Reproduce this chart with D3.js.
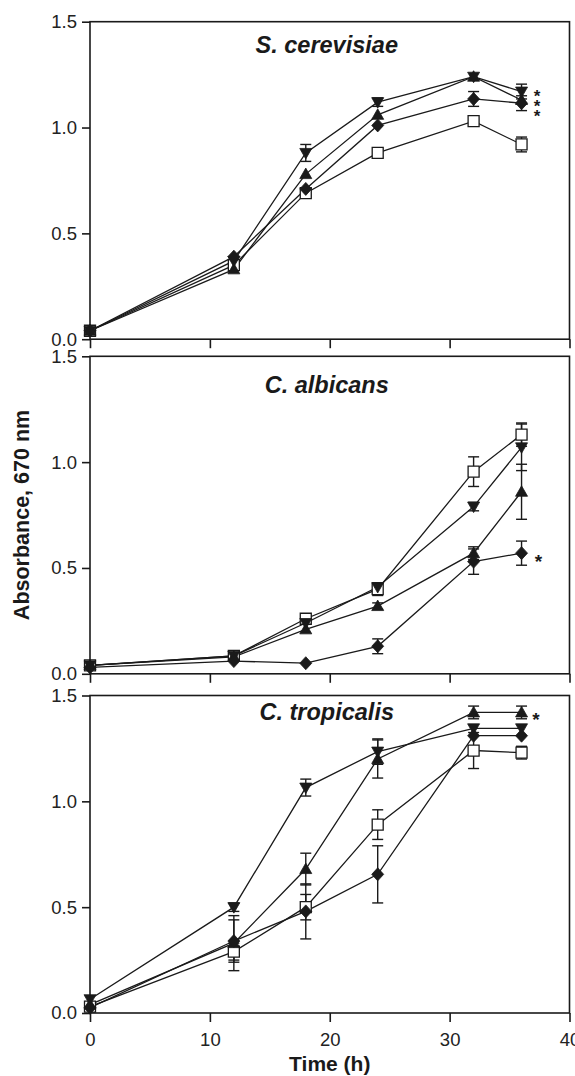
<!DOCTYPE html>
<html>
<head>
<meta charset="utf-8">
<script src="https://cdn.jsdelivr.net/npm/d3@7"></script>
<style>
  body { margin: 0; background: #fff; }
  svg { display: block; font-family: Arial, "Liberation Sans", Helvetica, sans-serif; }
</style>
</head>
<body>
<div id="chart"></div>
<script>
// sampling times (h)
const times = [0, 12, 18, 24, 32, 36];
const xTicks = [0, 10, 20, 30, 40];
const yTicks = [0, 0.5, 1.0, 1.5];
const panelTitles = ['S. cerevisiae', 'C. albicans', 'C. tropicalis'];
// series order: open square, triangle up, triangle down, diamond
const seriesShapes = ['square', 'triangleUp', 'triangleDown', 'diamond'];

// S. cerevisiae
const scMean = [
  [0.04, 0.35, 0.69, 0.88, 1.03, 0.92],
  [0.04, 0.33, 0.78, 1.06, 1.24, 1.13],
  [0.04, 0.37, 0.88, 1.12, 1.24, 1.17],
  [0.04, 0.39, 0.71, 1.01, 1.135, 1.115]
];
const scErr = [
  [0, 0, 0, 0.02, 0.01, 0.035],
  [0, 0, 0, 0, 0, 0],
  [0, 0, 0.04, 0.02, 0, 0.035],
  [0, 0, 0, 0, 0.035, 0.035]
];
// C. albicans
const caMean = [
  [0.04, 0.085, 0.26, 0.40, 0.955, 1.13],
  [0.04, 0.08, 0.21, 0.32, 0.57, 0.86],
  [0.04, 0.085, 0.24, 0.41, 0.79, 1.07],
  [0.03, 0.06, 0.05, 0.13, 0.53, 0.57]
];
const caErr = [
  [0, 0, 0, 0.03, 0.07, 0.055],
  [0, 0, 0, 0.015, 0.03, 0.13],
  [0, 0, 0, 0, 0.02, 0.11],
  [0, 0, 0, 0.035, 0.06, 0.057]
];
// C. tropicalis
const ctMean = [
  [0.03, 0.29, 0.50, 0.89, 1.24, 1.23],
  [0.04, 0.33, 0.68, 1.20, 1.42, 1.42],
  [0.065, 0.50, 1.065, 1.235, 1.345, 1.345],
  [0.025, 0.34, 0.48, 0.655, 1.31, 1.31]
];
const ctErr = [
  [0, 0.04, 0.06, 0.07, 0.085, 0.03],
  [0, 0.13, 0.075, 0.09, 0.03, 0.03],
  [0, 0.02, 0.04, 0.06, 0, 0],
  [0, 0.1, 0.13, 0.135, 0, 0]
];
const panelMeans = [scMean, caMean, ctMean];
const panelErrs = [scErr, caErr, ctErr];

// significance asterisks: [panel, time, absorbance]
const asterisks = [
  [0, 37.3, 1.168], [0, 37.3, 1.121], [0, 37.3, 1.074],
  [1, 37.4, 0.555],
  [2, 37.2, 1.41]
];

const width = 575;
const height = 1076;
const panelTops = [21.7, 356.3, 695.5];
const panelHeight = 317.5;
const titleDy = [31.5, 36.5, 24.5];
const ink = '#1a1a1a';

const svg = d3.select('#chart')
  .append('svg')
  .attr('width', width)
  .attr('height', height);

const xScale = d3.scaleLinear().domain([0, 40]).range([90, 569.5]);

// marker shapes, centred on 0,0
function shapePath(shape) {
  const p = d3.path();
  if (shape === 'square') {
    p.rect(-5.5, -5.5, 11, 11);
  } else if (shape === 'triangleUp') {
    p.moveTo(0, -6); p.lineTo(6, 4.5); p.lineTo(-6, 4.5); p.closePath();
  } else if (shape === 'triangleDown') {
    p.moveTo(0, 6); p.lineTo(6, -4.5); p.lineTo(-6, -4.5); p.closePath();
  } else {
    p.moveTo(0, -6.5); p.lineTo(6, 0); p.lineTo(0, 6.5); p.lineTo(-6, 0); p.closePath();
  }
  return p.toString();
}

panelTitles.forEach((title, pi) => {
  const top = panelTops[pi];
  const bottom = top + panelHeight;
  const yScale = d3.scaleLinear().domain([0, 1.5]).range([bottom, top]);
  const g = svg.append('g').attr('class', 'panel');

  // series as objects
  const series = seriesShapes.map((shape, si) => ({
    shape,
    points: times.map((t, ti) => ({ t, v: panelMeans[pi][si][ti], e: panelErrs[pi][si][ti] }))
  }));

  const line = d3.line().x(d => xScale(d.t)).y(d => yScale(d.v));

  g.selectAll('path.series')
    .data(series)
    .join('path')
    .attr('class', 'series')
    .attr('d', d => line(d.points))
    .attr('fill', 'none')
    .attr('stroke', ink)
    .attr('stroke-width', 1.3);

  // error bars
  const errs = series.flatMap(s => s.points.filter(p => p.e > 0));
  const eb = g.selectAll('g.err').data(errs).join('g').attr('class', 'err')
    .attr('stroke', ink).attr('stroke-width', 1.4);
  eb.append('line')
    .attr('x1', d => xScale(d.t)).attr('x2', d => xScale(d.t))
    .attr('y1', d => yScale(d.v - d.e)).attr('y2', d => yScale(d.v + d.e));
  eb.append('line')
    .attr('x1', d => xScale(d.t) - 5.5).attr('x2', d => xScale(d.t) + 5.5)
    .attr('y1', d => yScale(d.v + d.e)).attr('y2', d => yScale(d.v + d.e));
  eb.append('line')
    .attr('x1', d => xScale(d.t) - 5.5).attr('x2', d => xScale(d.t) + 5.5)
    .attr('y1', d => yScale(d.v - d.e)).attr('y2', d => yScale(d.v - d.e));

  // markers: open squares underneath, filled markers on top
  series.forEach(s => {
    g.selectAll(null)
      .data(s.points)
      .join('path')
      .attr('transform', d => `translate(${xScale(d.t)},${yScale(d.v)})`)
      .attr('d', shapePath(s.shape))
      .attr('fill', s.shape === 'square' ? '#fff' : ink)
      .attr('stroke', ink)
      .attr('stroke-width', s.shape === 'square' ? 1.3 : 0.8);
  });

  // frame
  g.append('rect')
    .attr('x', xScale(0)).attr('y', top)
    .attr('width', xScale(40) - xScale(0)).attr('height', panelHeight)
    .attr('fill', 'none').attr('stroke', ink).attr('stroke-width', 1.6);

  // axes
  const yAxis = d3.axisLeft(yScale).tickValues(yTicks)
    .tickFormat(d3.format('.1f')).tickSize(8).tickPadding(5).tickSizeOuter(0);
  const yg = g.append('g').attr('transform', `translate(${xScale(0)},0)`).call(yAxis);

  const xAxis = d3.axisBottom(xScale).tickValues(xTicks).tickSize(9).tickPadding(11).tickSizeOuter(0);
  if (pi < 2) xAxis.tickFormat('');
  const xg = g.append('g').attr('transform', `translate(0,${bottom})`).call(xAxis);

  [yg, xg].forEach(a => {
    a.select('.domain').remove();
    a.selectAll('line').attr('stroke', ink).attr('stroke-width', 1.6);
    a.selectAll('text').attr('fill', '#222').style('font-size', '18.5px')
      .style('font-family', 'Arial, "Liberation Sans", sans-serif');
  });

  // panel title
  g.append('text')
    .attr('x', (xScale(0) + xScale(40)) / 2 - 3)
    .attr('y', top + titleDy[pi])
    .attr('text-anchor', 'middle')
    .style('font-size', '23.5px')
    .style('font-weight', 'bold')
    .style('font-style', 'italic')
    .attr('fill', ink)
    .text(title);

  // asterisks
  g.selectAll('text.star')
    .data(asterisks.filter(a => a[0] === pi))
    .join('text')
    .attr('class', 'star')
    .attr('x', d => xScale(d[1]))
    .attr('y', d => yScale(d[2]))
    .attr('dy', '0.6em')
    .attr('text-anchor', 'middle')
    .style('font-size', pi === 0 ? '17px' : '19px')
    .style('font-weight', 'bold')
    .attr('fill', ink)
    .text('*');
});

// axis titles
svg.append('text')
  .attr('transform', 'translate(29,515) rotate(-90)')
  .attr('text-anchor', 'middle')
  .style('font-size', '21.5px')
  .style('font-weight', 'bold')
  .attr('fill', ink)
  .text('Absorbance, 670 nm');

svg.append('text')
  .attr('x', (xScale(0) + xScale(40)) / 2)
  .attr('y', 1071)
  .attr('text-anchor', 'middle')
  .style('font-size', '21px')
  .style('font-weight', 'bold')
  .attr('fill', ink)
  .text('Time (h)');
</script>
</body>
</html>
